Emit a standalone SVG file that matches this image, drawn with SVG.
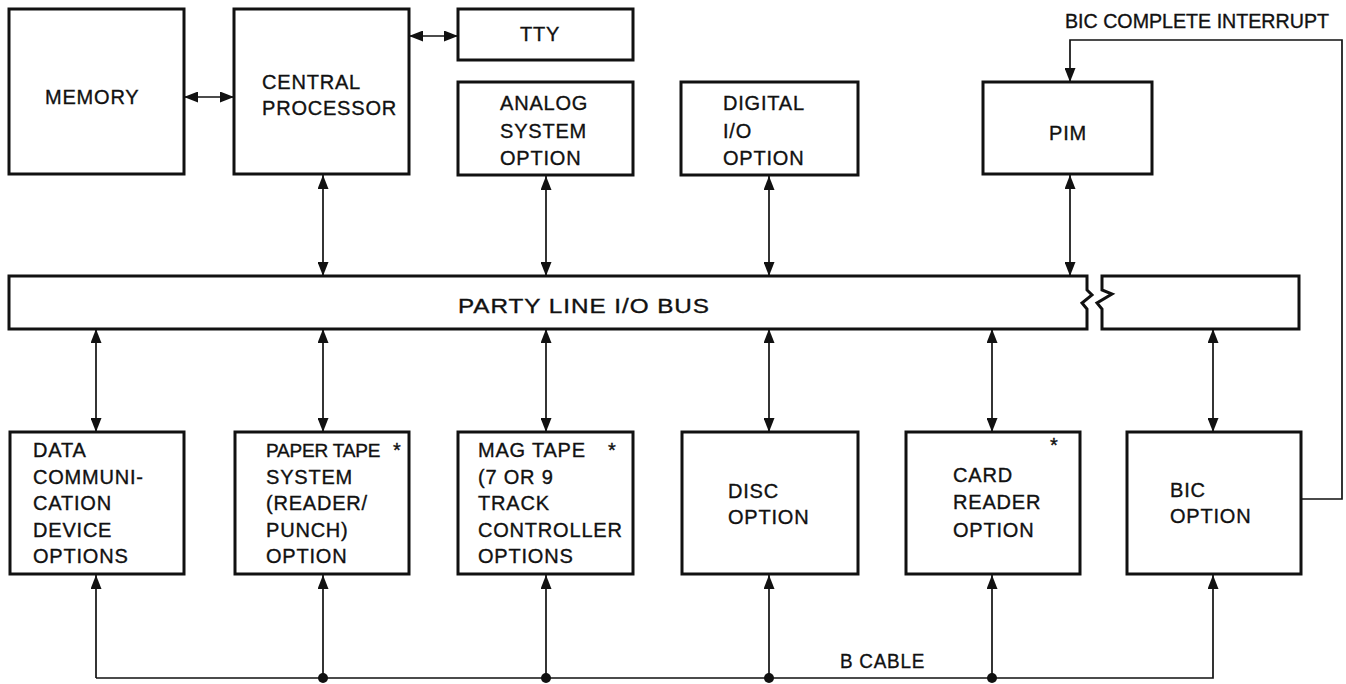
<svg xmlns="http://www.w3.org/2000/svg" width="1346" height="684" viewBox="0 0 1346 684">
<style>
.box{fill:#fff;stroke:#111;stroke-width:3}
.t{font-family:"Liberation Sans",Arial,sans-serif;font-size:20px;letter-spacing:0.8px;fill:#111;stroke:#111;stroke-width:0.35}
.c{fill:none;stroke:#111;stroke-width:1.7}
</style>
<defs>
<marker id="ah" viewBox="0 0 14 11" markerWidth="14" markerHeight="11" refX="14" refY="5.5" orient="auto-start-reverse" markerUnits="userSpaceOnUse"><path d="M0,0 L14,5.5 L0,11 z" fill="#111"/></marker>
</defs>
<rect width="1346" height="684" fill="#fff"/>

<g id="connectors">
<line class="c" x1="184" y1="97" x2="234" y2="97" marker-start="url(#ah)" marker-end="url(#ah)"/>
<line class="c" x1="409" y1="36" x2="458" y2="36" marker-start="url(#ah)" marker-end="url(#ah)"/>
<line class="c" x1="323" y1="175" x2="323" y2="276" marker-start="url(#ah)" marker-end="url(#ah)"/>
<line class="c" x1="546" y1="176" x2="546" y2="276" marker-start="url(#ah)" marker-end="url(#ah)"/>
<line class="c" x1="769" y1="176" x2="769" y2="276" marker-start="url(#ah)" marker-end="url(#ah)"/>
<line class="c" x1="1070" y1="175" x2="1070" y2="276" marker-start="url(#ah)" marker-end="url(#ah)"/>
<line class="c" x1="96" y1="329" x2="96" y2="432" marker-start="url(#ah)" marker-end="url(#ah)"/>
<line class="c" x1="323" y1="329" x2="323" y2="432" marker-start="url(#ah)" marker-end="url(#ah)"/>
<line class="c" x1="546" y1="329" x2="546" y2="432" marker-start="url(#ah)" marker-end="url(#ah)"/>
<line class="c" x1="769" y1="329" x2="769" y2="432" marker-start="url(#ah)" marker-end="url(#ah)"/>
<line class="c" x1="992" y1="329" x2="992" y2="432" marker-start="url(#ah)" marker-end="url(#ah)"/>
<line class="c" x1="1213" y1="329" x2="1213" y2="432" marker-start="url(#ah)" marker-end="url(#ah)"/>
<path class="c" d="M1301,499 H1342 V40 H1070 V82" marker-end="url(#ah)"/>
<path class="c" d="M96,678 H1213 V575" marker-end="url(#ah)"/>
<line class="c" x1="96" y1="678" x2="96" y2="575" marker-end="url(#ah)"/>
<line class="c" x1="323" y1="678" x2="323" y2="575" marker-end="url(#ah)"/>
<line class="c" x1="546" y1="678" x2="546" y2="575" marker-end="url(#ah)"/>
<line class="c" x1="769" y1="678" x2="769" y2="575" marker-end="url(#ah)"/>
<line class="c" x1="992" y1="678" x2="992" y2="575" marker-end="url(#ah)"/>
<circle cx="323" cy="678" r="5" fill="#111"/>
<circle cx="546" cy="678" r="5" fill="#111"/>
<circle cx="769" cy="678" r="5" fill="#111"/>
<circle cx="992" cy="678" r="5" fill="#111"/>
<text class="t" x="840" y="668" textLength="85" lengthAdjust="spacingAndGlyphs">B CABLE</text>
<text class="t" x="1065" y="28" style="letter-spacing:0" textLength="264" lengthAdjust="spacingAndGlyphs">BIC COMPLETE INTERRUPT</text>
</g>

<g id="memory"><rect class="box" x="9" y="9" width="175" height="165"/><text class="t" x="45" y="104">MEMORY</text></g>
<g id="cpu"><rect class="box" x="234" y="9" width="175" height="165"/><text class="t" x="262" y="89">CENTRAL</text><text class="t" x="262" y="115">PROCESSOR</text></g>
<g id="tty"><rect class="box" x="458" y="9" width="175" height="51"/><text class="t" x="540" y="41" text-anchor="middle">TTY</text></g>
<g id="analog"><rect class="box" x="458" y="82" width="175" height="93"/><text class="t" x="500" y="110">ANALOG</text><text class="t" x="500" y="138">SYSTEM</text><text class="t" x="500" y="165">OPTION</text></g>
<g id="digital"><rect class="box" x="681" y="82" width="177" height="93"/><text class="t" x="723" y="110">DIGITAL</text><text class="t" x="723" y="138">I/O</text><text class="t" x="723" y="165">OPTION</text></g>
<g id="pim"><rect class="box" x="983" y="82" width="169" height="92"/><text class="t" x="1068" y="140" text-anchor="middle">PIM</text></g>

<g id="bus">
<path class="box" d="M9,276 H1087 V290 L1092,295 L1082,303 L1087,309 V329 H9 Z"/>
<path class="box" d="M1102,276 H1299 V329 H1102 V309 L1097,303 L1112,294 L1102,290 Z"/>
<text class="t" x="458" y="313" textLength="252" lengthAdjust="spacingAndGlyphs">PARTY LINE I/O BUS</text>
</g>

<g id="datacomm"><rect class="box" x="10" y="432" width="174" height="142"/><text class="t" x="33" y="457">DATA</text><text class="t" x="33" y="484">COMMUNI-</text><text class="t" x="33" y="510">CATION</text><text class="t" x="33" y="537">DEVICE</text><text class="t" x="33" y="563">OPTIONS</text></g>
<g id="papertape"><rect class="box" x="235" y="432" width="174" height="142"/><text class="t" x="266" y="457" style="font-size:19px;letter-spacing:-0.2px">PAPER TAPE<tspan x="393" style="font-size:20px">*</tspan></text><text class="t" x="266" y="484">SYSTEM</text><text class="t" x="266" y="510">(READER/</text><text class="t" x="266" y="537">PUNCH)</text><text class="t" x="266" y="563">OPTION</text></g>
<g id="magtape"><rect class="box" x="458" y="432" width="175" height="142"/><text class="t" x="478" y="457">MAG TAPE<tspan x="608">*</tspan></text><text class="t" x="478" y="484">(7 OR 9</text><text class="t" x="478" y="510">TRACK</text><text class="t" x="478" y="537">CONTROLLER</text><text class="t" x="478" y="563">OPTIONS</text></g>
<g id="disc"><rect class="box" x="682" y="432" width="176" height="142"/><text class="t" x="728" y="498">DISC</text><text class="t" x="728" y="524">OPTION</text></g>
<g id="cardreader"><rect class="box" x="906" y="432" width="174" height="142"/><text class="t" x="1050" y="452">*</text><text class="t" x="953" y="482">CARD</text><text class="t" x="953" y="509">READER</text><text class="t" x="953" y="537">OPTION</text></g>
<g id="bic"><rect class="box" x="1127" y="432" width="174" height="142"/><text class="t" x="1170" y="497">BIC</text><text class="t" x="1170" y="523">OPTION</text></g>
</svg>
